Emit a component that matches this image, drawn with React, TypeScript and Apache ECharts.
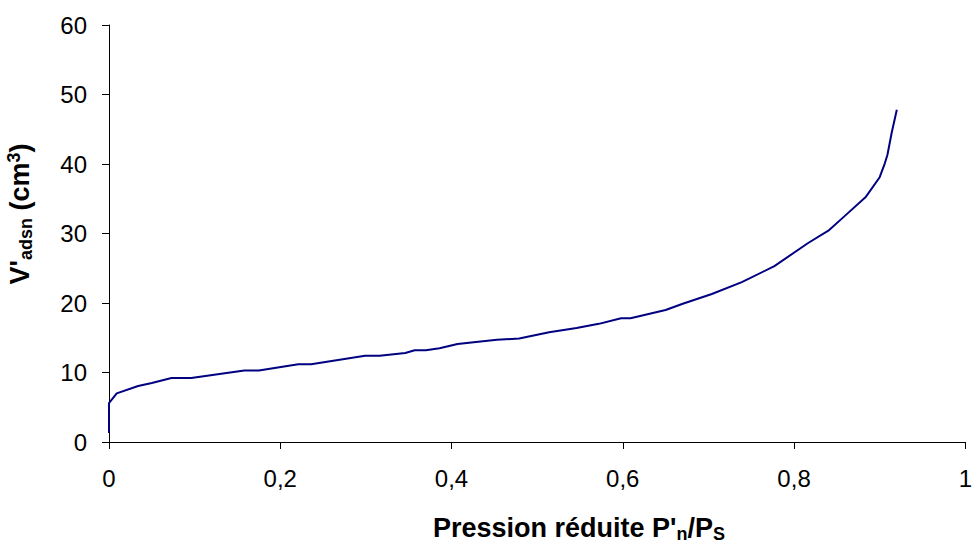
import React, { useEffect, useRef } from "react";
import * as echarts from "echarts";

const pressure = [0, 0, 0.009, 0.034, 0.05, 0.073, 0.096, 0.158, 0.175, 0.221, 0.236, 0.299, 0.316, 0.346, 0.357, 0.37, 0.386, 0.407, 0.453, 0.479, 0.514, 0.546, 0.572, 0.598, 0.609, 0.65, 0.67, 0.704, 0.739, 0.777, 0.816, 0.841, 0.859, 0.884, 0.9, 0.906, 0.909, 0.914, 0.92];
const volume = [1.3, 5.6, 7.0, 8.06, 8.5, 9.2, 9.2, 10.3, 10.3, 11.2, 11.2, 12.4, 12.4, 12.8, 13.2, 13.2, 13.5, 14.1, 14.7, 14.9, 15.8, 16.4, 17.0, 17.8, 17.8, 19.0, 19.9, 21.3, 23.0, 25.3, 28.6, 30.5, 32.5, 35.3, 38.1, 40.1, 41.3, 44.5, 47.8];

const xTicks = { min: 0, max: 1, interval: 0.2 };
const yTicks = { min: 0, max: 60, interval: 10 };

const FONT = "Liberation Sans, Arial, sans-serif";

export default function App() {
  const ref = useRef<HTMLDivElement>(null);
  useEffect(() => {
    if (!ref.current) return;
    const chart = echarts.init(ref.current, null, { renderer: "svg" });
    const axisCommon = {
      axisLine: { show: true, onZero: false, lineStyle: { color: "#000", width: 1 } },
      axisTick: { show: true, inside: false, length: 7, lineStyle: { color: "#000", width: 1 } },
      splitLine: { show: false },
    };
    const big = { fontFamily: FONT, fontSize: 27, fontWeight: "bold", lineHeight: 30, fill: "#000", verticalAlign: "middle" };
    const small = { fontFamily: FONT, fontSize: 18, fontWeight: "bold", lineHeight: 30, fill: "#000" };
    chart.setOption({
      animation: false,
      backgroundColor: "#fff",
      grid: { left: 109, right: 3, top: 25, bottom: 103, containLabel: false },
      xAxis: {
        type: "value",
        ...xTicks,
        ...axisCommon,
        axisLabel: {
          color: "#000",
          fontFamily: FONT,
          fontSize: 24,
          margin: 24,
          formatter: (v: number) => String(Number(v.toFixed(1))).replace(".", ","),
        },
      },
      yAxis: {
        type: "value",
        ...yTicks,
        ...axisCommon,
        axisLabel: {
          color: "#000",
          fontFamily: FONT,
          fontSize: 24,
          margin: 22,
        },
      },
      series: [
        {
          type: "line",
          data: pressure.map((p, i) => [p, volume[i]]),
          showSymbol: false,
          symbol: "none",
          lineStyle: { color: "#000080", width: 2 },
        },
      ],
      graphic: [
        {
          type: "text",
          x: 433,
          y: 528,
          style: {
            text: "{b|Pression réduite P'}{s|n}{b|/P}{s|S}",
            align: "left",
            verticalAlign: "middle",
            fill: "#000",
            rich: {
              b: big,
              s: { ...small, verticalAlign: "bottom" },
            },
          },
        },
        {
          type: "text",
          x: 20,
          y: 214,
          rotation: Math.PI / 2,
          style: {
            text: "{b|V'}{s|adsn}{b| (cm}{u|3}{b|)}",
            align: "center",
            verticalAlign: "middle",
            fill: "#000",
            rich: {
              b: big,
              s: { ...small, verticalAlign: "bottom" },
              u: { ...small, verticalAlign: "top" },
            },
          },
        },
      ],
    });
    return () => chart.dispose();
  }, []);
  return <div ref={ref} style={{ position: "fixed", left: 0, top: 0, width: 975, height: 545 }} />;
}
